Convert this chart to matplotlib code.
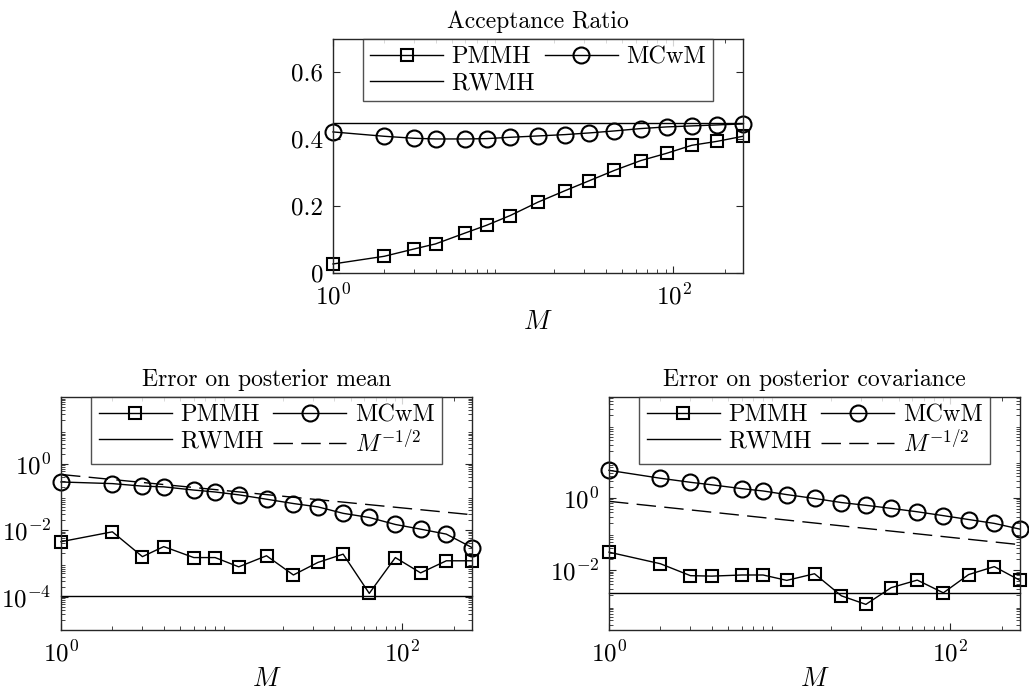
import numpy as np
import matplotlib
matplotlib.use('Agg')
import matplotlib.pyplot as plt
from matplotlib.ticker import LogLocator, FixedLocator, FixedFormatter, NullFormatter

plt.rcParams['font.family'] = ['cmr10', 'DejaVu Serif']
plt.rcParams['mathtext.fontset'] = 'cm'
plt.rcParams['axes.formatter.use_mathtext'] = True
plt.rcParams['axes.unicode_minus'] = False

# number of samples M
M = [1, 2, 3, 4, 6, 8, 11, 16, 23, 32, 45, 64, 91, 128, 181, 256]

# acceptance ratio
acc_pmmh = [0.027, 0.050, 0.072, 0.087, 0.120, 0.143, 0.172, 0.212, 0.246,
            0.276, 0.307, 0.336, 0.358, 0.382, 0.394, 0.409]
acc_mcwm = [0.422, 0.409, 0.403, 0.401, 0.401, 0.402, 0.406, 0.410, 0.414,
            0.419, 0.425, 0.432, 0.437, 0.440, 0.443, 0.446]
acc_rwmh = 0.449

# error on posterior mean
mean_pmmh = [4.5e-3, 8.9e-3, 1.6e-3, 3.2e-3, 1.5e-3, 1.5e-3, 7.9e-4, 1.7e-3,
             4.5e-4, 1.07e-3, 1.9e-3, 1.26e-4, 1.5e-3, 5.2e-4, 1.2e-3, 1.2e-3]
mean_mcwm = [0.28, 0.25, 0.21, 0.20, 0.16, 0.14, 0.115, 0.085, 0.063, 0.050,
             0.032, 0.024, 0.0148, 0.0107, 0.0076, 0.0030]
mean_rwmh = 1.05e-4
mean_ref = [0.47, 0.029]   # M^{-1/2} guide at M = 1 and M = 256

# error on posterior covariance
cov_pmmh = [0.031, 0.0148, 0.0069, 0.0067, 0.0072, 0.0072, 0.0051, 0.0078,
            0.0019, 0.0011, 0.0032, 0.0052, 0.0023, 0.0074, 0.0123, 0.0051]
cov_mcwm = [5.8, 3.5, 2.7, 2.3, 1.8, 1.55, 1.23, 0.96, 0.74, 0.62, 0.51,
            0.41, 0.32, 0.25, 0.195, 0.135]
cov_rwmh = 0.0023
cov_ref = [0.80, 0.050]
ref_M = [1, 256]

W, H = 1029, 692
fig = plt.figure(figsize=(W / 100, H / 100), dpi=100)

def px_axes(l, t, r, b):
    return fig.add_axes([l / W, 1 - b / H, (r - l) / W, (b - t) / H])

ax_top = px_axes(333, 39, 743, 273)
ax_mean = px_axes(61, 397, 472, 630)
ax_cov = px_axes(609, 397, 1020, 630)

fs_tick = 18
fs_title = 17
fs_leg = 17.5
kw_sq = dict(color='k', lw=1.0, marker='s', ms=9, mfc='none', mew=1.5)
kw_ci = dict(color='k', lw=1.0, marker='o', ms=11.5, mfc='none', mew=1.5)

def style(ax, title):
    ax.set_xscale('log')
    ax.set_xlim(1, 256)
    ax.xaxis.set_major_locator(FixedLocator([1, 100]))
    ax.xaxis.set_major_formatter(FixedFormatter([r'$10^0$', r'$10^2$']))
    ax.xaxis.set_minor_locator(LogLocator(base=10, subs=np.arange(2, 10)))
    ax.xaxis.set_minor_formatter(NullFormatter())
    ax.tick_params(which='both', direction='in', top=True, right=True,
                   labelsize=fs_tick, color='0.15')
    ax.tick_params(axis='x', which='both', pad=8)
    ax.tick_params(axis='y', which='both', pad=7)
    ax.tick_params(which='major', length=5, width=0.8)
    ax.tick_params(which='minor', length=3, width=0.6)
    for s in ax.spines.values():
        s.set_color('0.15')
        s.set_linewidth(1.0)
    ax.set_title(title, fontsize=fs_title, pad=8)
    ax.set_xlabel(r'$M$', fontsize=19, labelpad=0)

def put_legend(ax, order):
    h, l = ax.get_legend_handles_labels()
    h = [h[i] for i in order]
    l = [l[i] for i in order]
    leg = ax.legend(h, l, loc='upper center', ncol=2, fontsize=fs_leg,
                    frameon=True, fancybox=False, edgecolor='0.15',
                    borderaxespad=0, handlelength=3.0, columnspacing=0.4,
                    handletextpad=0.35, borderpad=0.3, labelspacing=0.15)
    leg.get_frame().set_linewidth(1.0)
    return leg

# acceptance ratio
ax_top.plot(M, acc_pmmh, label='PMMH', **kw_sq)
ax_top.plot(M, acc_mcwm, label='MCwM', **kw_ci)
ax_top.axhline(acc_rwmh, color='k', lw=1.0, label='RWMH')
style(ax_top, 'Acceptance Ratio')
ax_top.set_ylim(0, 0.7)
ax_top.yaxis.set_major_locator(FixedLocator([0, 0.2, 0.4, 0.6]))
ax_top.yaxis.set_major_formatter(FixedFormatter(['0', '0.2', '0.4', '0.6']))
put_legend(ax_top, [0, 2, 1])

# error panels
for ax, pm, mc, rw, ref, title, ylim, yt, ytl in [
        (ax_mean, mean_pmmh, mean_mcwm, mean_rwmh, mean_ref,
         'Error on posterior mean', (1e-5, 1e2),
         [1e-4, 1e-2, 1e0], [r'$10^{-4}$', r'$10^{-2}$', r'$10^{0}$']),
        (ax_cov, cov_pmmh, cov_mcwm, cov_rwmh, cov_ref,
         'Error on posterior covariance', (10 ** -3.67, 10 ** 2.8),
         [1e-2, 1e0], [r'$10^{-2}$', r'$10^{0}$'])]:
    ax.plot(M, pm, label='PMMH', **kw_sq)
    ax.plot(M, mc, label='MCwM', **kw_ci)
    ax.axhline(rw, color='k', lw=1.0, label='RWMH')
    ax.plot(ref_M, ref, color='k', lw=1.0, ls=(0, (14, 6)), label=r'$M^{-1/2}$')
    style(ax, title)
    ax.set_yscale('log')
    ax.set_ylim(*ylim)
    ax.yaxis.set_major_locator(FixedLocator(yt))
    ax.yaxis.set_major_formatter(FixedFormatter(ytl))
    ax.yaxis.set_minor_locator(LogLocator(base=10, subs=np.arange(2, 10), numticks=50))
    ax.yaxis.set_minor_formatter(NullFormatter())
    put_legend(ax, [0, 2, 1, 3])

for ax in (ax_top, ax_mean, ax_cov):
    for ln in ax.lines:
        ln.set_clip_on(False)

fig.savefig('out.png', dpi=100)
